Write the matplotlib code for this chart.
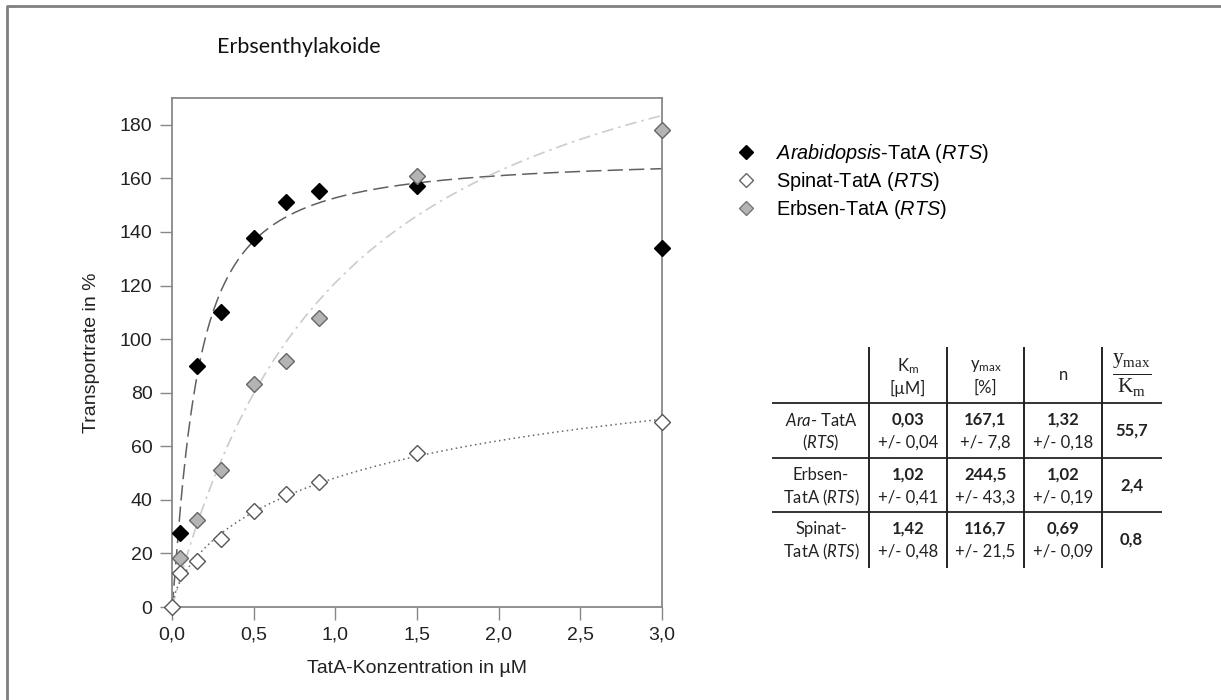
import numpy as np
import matplotlib
matplotlib.use("Agg")
import matplotlib.pyplot as plt
from matplotlib.lines import Line2D

# measured concentrations (uM) and transport rates (%)
conc = [0.05, 0.15, 0.3, 0.5, 0.7, 0.9, 1.5, 3.0]
ara_rate = [27.5, 90, 110.3, 137.7, 151.1, 155.3, 157, 134]
erbsen_rate = [18.2, 32.5, 51.2, 83.3, 92, 107.8, 161, 178]
spinat_conc = [0.0, 0.05, 0.15, 0.3, 0.5, 0.7, 0.9, 1.5, 3.0]
spinat_rate = [0, 12.8, 17.3, 25.4, 35.8, 42, 46.8, 57.6, 69.2]

# Hill fit parameters used for the drawn curves (ymax, K, n)
ara_fit = [168, 0.1, 1.2]
erbsen_fit = [244.5, 1.02, 1.02]
spinat_fit = [116.7, 1.42, 0.69]

legend_labels = [r"$\it{Arabidopsis}$-TatA ($\it{RTS}$)",
                 r"Spinat-TatA ($\it{RTS}$)",
                 r"Erbsen-TatA ($\it{RTS}$)"]

# table contents (rows: Ara, Erbsen, Spinat)
row_top = [r"$\mathsf{Ara}$- TatA", "Erbsen-", "Spinat-"]
row_bottom = [r"($\mathsf{RTS}$)", r"TatA ($\mathsf{RTS}$)", r"TatA ($\mathsf{RTS}$)"]
km = ["0,03", "1,02", "1,42"]
km_err = ["+/- 0,04", "+/- 0,41", "+/- 0,48"]
ymax = ["167,1", "244,5", "116,7"]
ymax_err = ["+/- 7,8", "+/- 43,3", "+/- 21,5"]
hill_n = ["1,32", "1,02", "0,69"]
hill_n_err = ["+/- 0,18", "+/- 0,19", "+/- 0,09"]
ratio = ["55,7", "2,4", "0,8"]


def hill(x, p):
    ym, k, n = p
    return ym * x ** n / (k + x ** n)


plt.rcParams["font.family"] = ["Liberation Sans", "DejaVu Sans"]
plt.rcParams["mathtext.fontset"] = "custom"
plt.rcParams["mathtext.it"] = "Liberation Sans:italic"
plt.rcParams["mathtext.sf"] = "Lato:italic"
plt.rcParams["mathtext.tt"] = "Liberation Serif"
plt.rcParams["mathtext.rm"] = "Liberation Serif"

fig = plt.figure(figsize=(12.21, 7), dpi=100)
W, H = 1221, 700

# overlay in pixel coordinates for border, title and table
ov = fig.add_axes([0, 0, 1, 1])
ov.set_xlim(0, W)
ov.set_ylim(H, 0)
ov.axis("off")
ov.plot([7, 7, W + 5], [H + 5, 6, 6], color="#808080", lw=2)
ov.text(299, 47, "Erbsenthylakoide", family="Lato", fontsize=15.5,
        ha="center", va="center", color="#111")

ax = fig.add_axes([172 / W, 1 - 607 / H, (662 - 172) / W, (607 - 98) / H])
xs = np.linspace(0, 3, 400)
ax.plot(xs, hill(xs, ara_fit), color="#606060", lw=1.1, dashes=(10, 4))
ax.plot(xs, hill(xs, erbsen_fit), color="#cccccc", lw=1.2, dashes=(7, 3, 1.5, 3))
ax.plot(xs, hill(xs, spinat_fit), color="#666666", lw=1.1, dashes=(1, 2.2))

mk = dict(marker="D", ms=8.5, ls="none", clip_on=False)
ax.plot(conc, ara_rate, mfc="black", mec="black", zorder=3, **mk)
ax.plot(spinat_conc, spinat_rate, mfc="white", mec="#555555", mew=1, zorder=3, **mk)
ax.plot(conc, erbsen_rate, mfc="#b4b4b4", mec="#666666", mew=1, zorder=4, **mk)

ax.set_xlim(0, 3)
ax.set_ylim(0, 190)
ax.set_xticks(np.arange(0, 3.01, 0.5))
ax.set_xticklabels([f"{v:.1f}".replace(".", ",") for v in np.arange(0, 3.01, 0.5)])
ax.set_yticks(range(0, 181, 20))
for s in ax.spines.values():
    s.set_color("#888888")
    s.set_linewidth(1.3)
ax.tick_params(direction="out", length=9, width=1, color="#888888",
               labelsize=14, labelcolor="#222222", pad=5)
ax.set_xlabel("TatA-Konzentration in µM", fontsize=14, color="#222222", labelpad=12)
ax.set_ylabel("Transportrate in %", fontsize=14, color="#222222", labelpad=14)

handles = [
    Line2D([], [], marker="D", ls="none", ms=7, mfc="black", mec="black"),
    Line2D([], [], marker="D", ls="none", ms=7, mfc="white", mec="#666666"),
    Line2D([], [], marker="D", ls="none", ms=7, mfc="#b4b4b4", mec="#777777"),
]
fig.legend(handles, legend_labels, loc="upper left",
           bbox_to_anchor=(736 / W, 1 - 142 / H), frameon=False,
           fontsize=14.3, handlelength=1.0, handletextpad=1.0,
           labelspacing=0.25, borderaxespad=0, borderpad=0)

# table
tx0, tx1 = 773, 1161
col_edges = [773, 869, 947, 1024, 1102, 1161]
for yl in [403, 458, 512]:
    ov.plot([tx0, tx1], [yl, yl], color="#333333", lw=1.4)
for xv in col_edges[1:-1]:
    ov.plot([xv, xv], [348, 567], color="#222222", lw=1.4)
cen = [(col_edges[i] + col_edges[i + 1]) / 2 for i in range(5)]
tf = dict(family="Lato", fontsize=12, ha="center", va="center", color="#222222")
ov.text(cen[1], 366, r"K$_\mathregular{m}$", **tf)
ov.text(cen[1], 388, "[µM]", **tf)
ov.text(cen[2], 366, r"y$_\mathregular{max}$", **tf)
ov.text(cen[2], 388, "[%]", **tf)
ov.text(cen[3], 375, "n", **tf)
ov.text(cen[4], 375, r"$\frac{\mathtt{y}_{\mathtt{max}}}{\mathtt{K}_{\mathtt{m}}}$",
        ha="center", va="center", fontsize=22, color="#222222")
row_tops = [403, 458, 512]
for i in range(3):
    y0 = row_tops[i]
    ya, yb = y0 + 17, y0 + 40
    ov.text(cen[0], ya, row_top[i], **tf)
    ov.text(cen[0], yb, row_bottom[i], **tf)
    for c, (v, e) in enumerate(zip([km, ymax, hill_n], [km_err, ymax_err, hill_n_err])):
        ov.text(cen[c + 1], ya, v[i], fontweight="bold", **tf)
        ov.text(cen[c + 1], yb, e[i], **tf)
    ov.text(cen[4], y0 + 28, ratio[i], fontweight="bold", **tf)

fig.savefig("out.png", dpi=100)
